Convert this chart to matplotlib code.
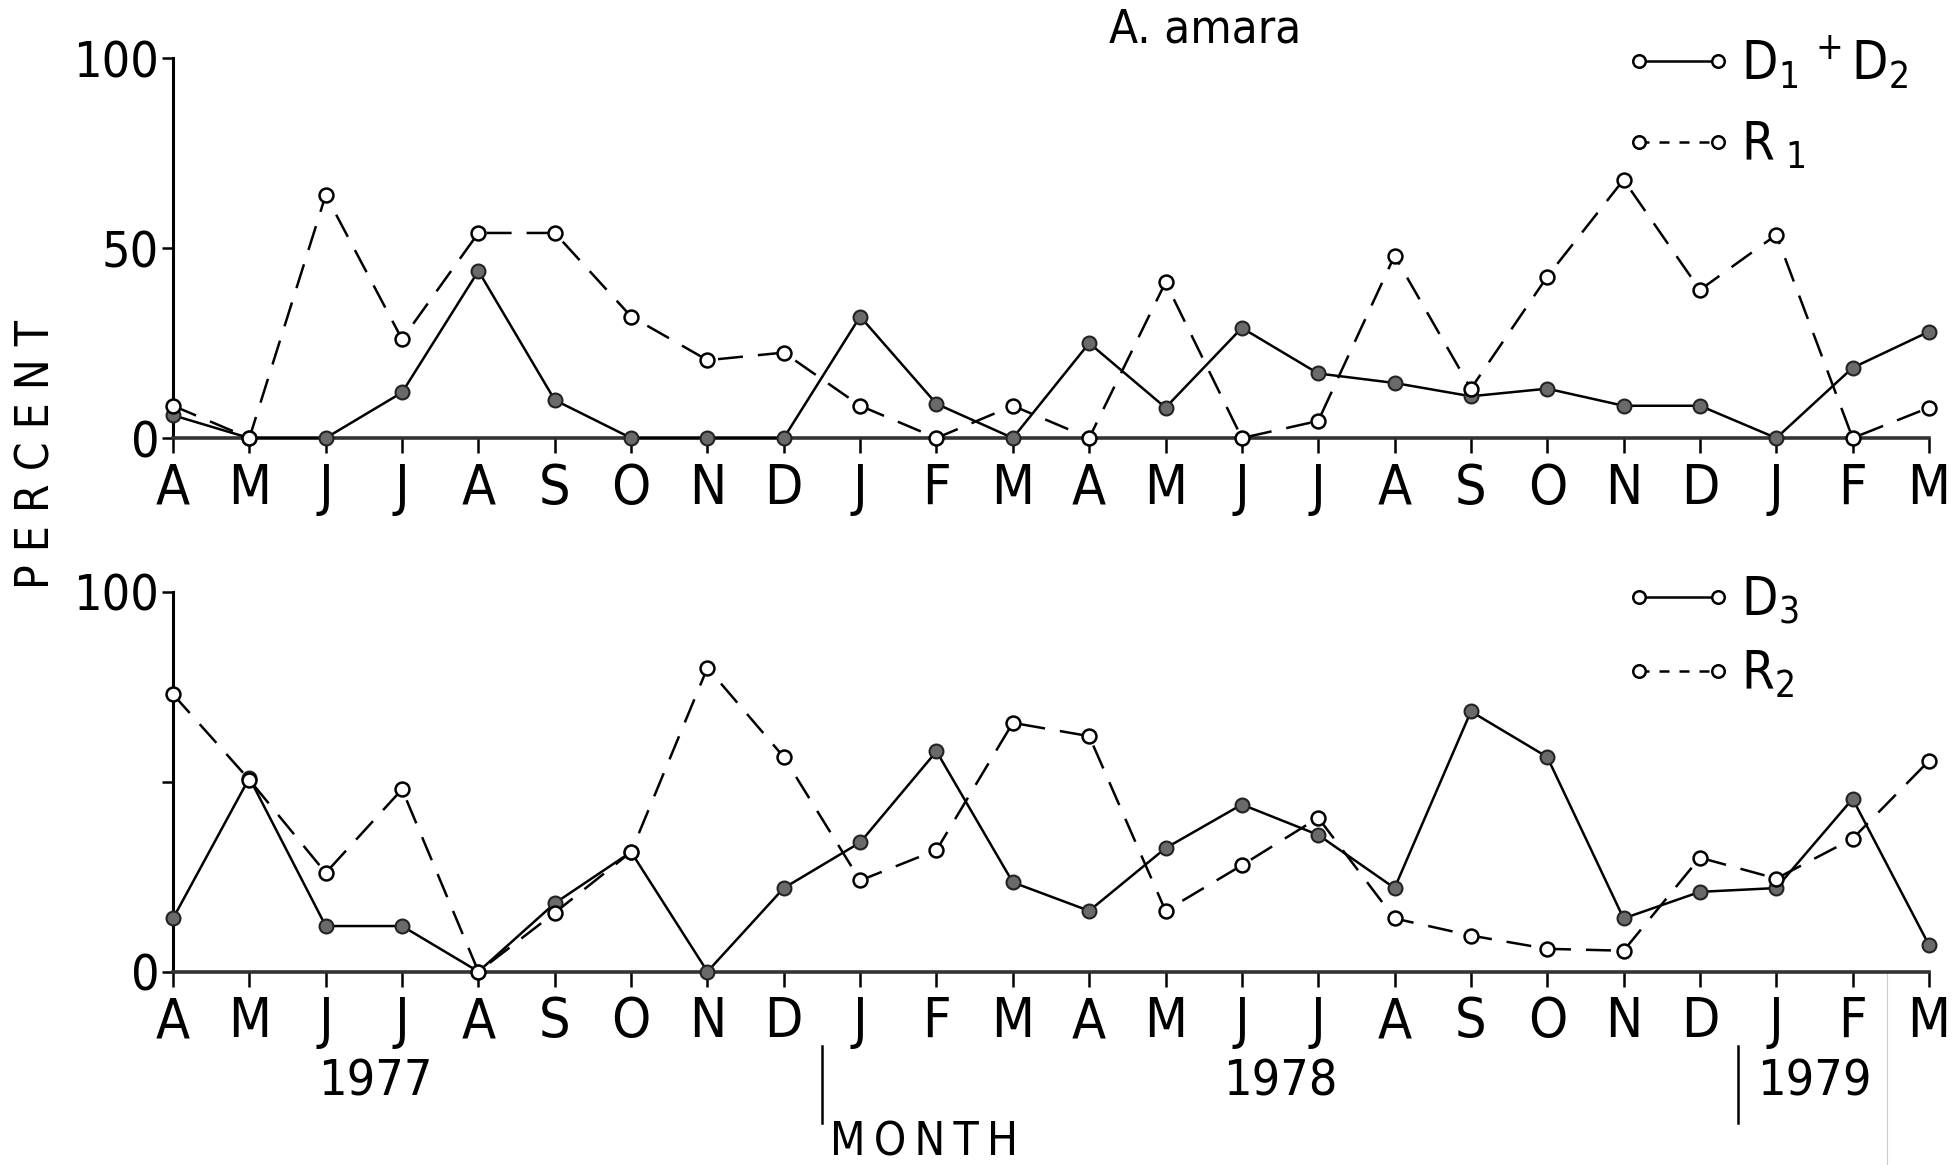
import matplotlib.pyplot as plt
from matplotlib.lines import Line2D
from matplotlib.transforms import blended_transform_factory

plt.rcParams['font.family'] = ['DejaVu Sans']
plt.rcParams['font.stretch'] = 'condensed'
plt.rcParams['mathtext.default'] = 'regular'

months = ['A', 'M', 'J', 'J', 'A', 'S', 'O', 'N', 'D', 'J', 'F', 'M',
          'A', 'M', 'J', 'J', 'A', 'S', 'O', 'N', 'D', 'J', 'F', 'M']

# percentages per month, April 1977 - March 1979
d1_d2 = [6, 0, 0, 12, 44, 10, 0, 0, 0, 32, 9, 0,
         25, 8, 29, 17, 14.5, 11, 13, 8.5, 8.5, 0, 18.5, 28]
r1 = [8.5, 0, 64, 26, 54, 54, 32, 20.5, 22.5, 8.5, 0, 8.5,
      0, 41, 0, 4.5, 48, 13, 42.5, 68, 39, 53.5, 0, 8]
d3 = [14, 51, 12, 12, 0, 18, 31.5, 0, 22, 34, 58, 23.5,
      16, 32.5, 44, 36, 22, 68.5, 56.5, 14, 21, 22, 45.5, 7]
r2 = [73, 50.5, 26, 48, 0, 15.5, 31.5, 80, 56.5, 24, 32, 65.5,
      62, 16, 28, 40.5, 14, 9.5, 6, 5.5, 30, 24.5, 35, 55.5]

years = ['1977', '1978', '1979']
year_x = [2.65, 14.5, 21.5]
year_breaks = [8.5, 20.5]

x = list(range(len(months)))

fig = plt.figure(figsize=(19.53, 11.65), dpi=100)
ax1 = fig.add_axes([0.0886, 0.624, 0.8991, 0.326])
ax2 = fig.add_axes([0.0886, 0.166, 0.8991, 0.326])

solid_kw = dict(color='black', lw=1.8, marker='o', markersize=10,
                markerfacecolor='#6a6a6a', markeredgecolor='#222222',
                markeredgewidth=1.5, clip_on=False, zorder=3)
dash_kw = dict(color='black', lw=1.8, linestyle=(0, (10, 6)), marker='o',
               markersize=10, markerfacecolor='white', markeredgecolor='black',
               markeredgewidth=1.8, clip_on=False, zorder=4)


def style_axes(ax, yticks):
    ax.set_xlim(0, 23)
    ax.set_ylim(0, 100)
    ax.set_xticks(x)
    ax.set_xticklabels(months, fontsize=40)
    ax.set_yticks([0, 50, 100])
    ax.set_yticklabels(yticks, fontsize=36)
    for s in ['top', 'right']:
        ax.spines[s].set_visible(False)
    ax.spines['left'].set_linewidth(2.2)
    ax.spines['bottom'].set_linewidth(2.6)
    ax.spines['bottom'].set_color('#333333')
    ax.tick_params(axis='x', direction='out', length=11, width=1.8, pad=6)
    ax.tick_params(axis='y', direction='out', length=8, width=1.8, pad=2)


ax1.plot(x, d1_d2, **solid_kw)
ax1.plot(x, r1, **dash_kw)
style_axes(ax1, ['0', '50', '100'])

ax2.plot(x, d3, **solid_kw)
ax2.plot(x, r2, **dash_kw)
style_axes(ax2, ['0', '', '100'])


def legend_handles():
    open_kw = dict(color='black', lw=1.8, marker='o', markersize=9,
                   markerfacecolor='white', markeredgecolor='black',
                   markeredgewidth=1.8)
    return (Line2D([], [], **open_kw),
            Line2D([], [], linestyle=(0, (4, 4)), **open_kw))


for ax, labels, top, gap in [(ax1, [r'$D_1\,^+D_2$', r'$R_{\ 1}$'], 1.065, 0.55),
                             (ax2, [r'$D_3$', r'$R_2$'], 1.045, 0.4)]:
    ax.legend(legend_handles(), labels, loc='upper left',
              bbox_to_anchor=(0.826, top), frameon=False, fontsize=38,
              numpoints=2, handlelength=2.1, handletextpad=0.12,
              labelspacing=gap, borderaxespad=0, borderpad=0)

# year labels and the separators between calendar years
trans = blended_transform_factory(ax2.transData, ax2.transAxes)
for yr, xp in zip(years, year_x):
    ax2.text(xp, -0.29, yr, transform=trans, ha='center', va='center',
             fontsize=36)
for xb in year_breaks:
    ax2.plot([xb, xb], [-0.195, -0.398], transform=trans,
             color='black', lw=1.8, clip_on=False)
ax2.plot([22.45] * 2, [0.0, -0.6], transform=trans,
         color='#cccccc', lw=0.8, clip_on=False)

ax2.text(8.6, -0.452, '\u2009'.join('MONTH'), transform=trans, ha='left',
         va='center', fontsize=33)

fig.text(0.019, 0.61, 'P E R C E N T', rotation=90, ha='center',
         va='center', fontsize=33)
fig.text(0.617, 0.974, 'A. amara', ha='center', va='center', fontsize=34)

fig.savefig('out.png', dpi=100, facecolor='white')
